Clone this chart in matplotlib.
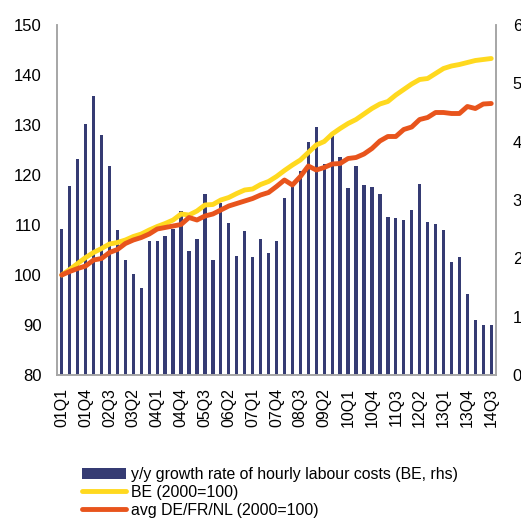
import matplotlib
matplotlib.use("Agg")
import matplotlib.pyplot as plt
from matplotlib.patches import Patch
from matplotlib.lines import Line2D
import numpy as np

plt.rcParams['font.family'] = ['Liberation Sans', 'DejaVu Sans']

quarters = [f"{y:02d}Q{q}" for y in range(1, 15) for q in range(1, 5)][:55]

growth_be = [2.51, 3.24, 3.71, 4.31, 4.78, 4.11, 3.58, 2.48, 1.98, 1.73,
             1.49, 2.30, 2.29, 2.39, 2.50, 2.81, 2.13, 2.34, 3.10, 1.97,
             2.95, 2.61, 2.04, 2.47, 2.02, 2.34, 2.10, 2.30, 3.03, 3.23,
             3.50, 3.99, 4.26, 3.61, 4.09, 3.74, 3.21, 3.58, 3.26, 3.22,
             3.10, 2.71, 2.69, 2.66, 2.83, 3.27, 2.62, 2.59, 2.49, 1.93,
             2.02, 1.39, 0.94, 0.86, 0.86]

be_index = [100.0, 101.1, 102.3, 103.5, 104.5, 105.3, 106.2, 106.5, 107.0, 107.7,
            108.2, 109.0, 109.7, 110.3, 111.0, 112.2, 112.0, 112.8, 114.0, 114.1,
            115.0, 115.5, 116.3, 117.0, 117.2, 118.1, 118.7, 119.7, 120.9, 122.0,
            123.0, 124.5, 126.0, 126.7, 128.2, 129.3, 130.3, 131.1, 132.2, 133.3,
            134.2, 134.7, 136.0, 137.1, 138.2, 139.1, 139.3, 140.3, 141.3, 141.8,
            142.1, 142.5, 142.9, 143.1, 143.3]

avg_index = [100.0, 100.7, 101.3, 101.8, 103.0, 103.3, 104.5, 105.1, 106.3, 107.0,
             107.5, 108.2, 109.2, 109.5, 109.8, 110.1, 111.5, 111.0, 111.8, 112.2,
             113.0, 113.8, 114.3, 114.8, 115.3, 116.0, 116.5, 117.7, 119.0, 118.0,
             119.7, 121.8, 121.0, 121.5, 122.2, 122.3, 123.3, 123.5, 124.2, 125.3,
             126.8, 127.7, 127.7, 129.1, 129.6, 131.1, 131.5, 132.5, 132.5, 132.3,
             132.3, 133.7, 133.3, 134.2, 134.3]

labels = ["y/y growth rate of hourly labour costs (BE, rhs)",
          "BE (2000=100)",
          "avg DE/FR/NL (2000=100)"]

navy = "#353B73"
yellow = "#FFD91F"
orange = "#E8541C"
gray = "#A6A6A6"

fig = plt.figure(figsize=(5.21, 5.19), dpi=100)
ax = fig.add_axes([57/521, 1-375/519, (496-57)/521, 350/519])
x = np.arange(len(quarters))

ax.bar(x, growth_be, width=0.42, color=navy, zorder=2)
ax.set_ylim(0, 6)
ax.set_xlim(-0.6, len(quarters) - 0.4)

ax2 = ax.twinx()
ax2.plot(x, be_index, color=yellow, lw=3.5, solid_capstyle='round', zorder=3)
ax2.plot(x, avg_index, color=orange, lw=3.5, solid_capstyle='round', zorder=4)
ax2.set_ylim(80, 150)

# right axis (bars) ticks on the right, left axis (indices) ticks on the left
ax.yaxis.tick_right()
ax.yaxis.set_label_position('right')
ax2.yaxis.tick_left()
ax2.yaxis.set_label_position('left')
ax.set_yticks(range(0, 7))
ax2.set_yticks(range(80, 151, 10))
ax.tick_params(axis='y', which='both', left=False, right=True, labelleft=False,
               labelright=True, length=0, pad=12, labelsize=12)
ax2.tick_params(axis='y', which='both', left=True, right=False, labelleft=True,
                labelright=False, length=0, pad=11, labelsize=12)

ax.set_xticks(x[::3])
ax.set_xticklabels(quarters[::3], rotation=90, fontsize=11.5)
ax.tick_params(axis='x', length=0, pad=9.5)

for a in (ax, ax2):
    a.spines['top'].set_visible(False)
    for s in ('left', 'right', 'bottom'):
        a.spines[s].set_color(gray)
        a.spines[s].set_linewidth(1.2)

handles = [Patch(facecolor=navy, edgecolor='none'),
           Line2D([0], [0], color=yellow, lw=3.5, solid_capstyle='round'),
           Line2D([0], [0], color=orange, lw=3.5, solid_capstyle='round')]
fig.legend(handles, labels, loc='upper left', bbox_to_anchor=(82/521, 1-467/519),
           frameon=False, fontsize=11.4, handlelength=2.8, handletextpad=0.3,
           labelspacing=0.18, borderaxespad=0, borderpad=0)

fig.savefig("out.png", dpi=100)
